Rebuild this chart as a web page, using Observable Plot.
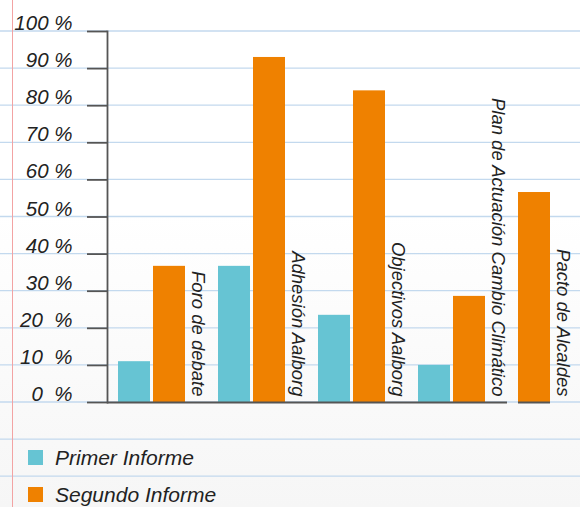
<!DOCTYPE html>
<html>
<head>
<meta charset="utf-8">
<script src="https://cdn.jsdelivr.net/npm/d3@7"></script>
<script src="https://cdn.jsdelivr.net/npm/@observablehq/plot@0.6"></script>
<style>
  html, body { margin: 0; padding: 0; }
  body {
    width: 580px; height: 507px; overflow: hidden; position: relative;
    background: linear-gradient(to bottom, #ffffff 0%, #ffffff 42%, #f6f6f6 100%);
    font-family: "Liberation Sans", Arial, sans-serif;
  }
  #bg { position: absolute; left: 0; top: 0; }
  #chart { position: absolute; left: 0; top: 0; }
  #chart svg { background: transparent !important; overflow: visible; }
  #chart g[aria-label="y-axis tick label"] text { white-space: pre; }
  #legend { position: absolute; left: 0; top: 420px; width: 580px; padding-top: 19px; }
  .row { height: 37px; display: flex; align-items: center; }
  .sw { width: 15px; height: 15px; margin-left: 28px; margin-right: 12px; }
  .lb { font-size: 21px; font-style: italic; color: #222; }
</style>
</head>
<body>
<div id="bg"></div>
<div id="chart"></div>
<div id="legend"></div>
<script>
// ---- data ----
const categories = ["Foro de debate", "Adhesión Aalborg", "Objectivos Aalborg", "Plan de Actuación Cambio Climático", "Pacto de Alcaldes"];
const series = ["Primer Informe", "Segundo Informe"];
const primerInforme = [11, 36.7, 23.5, 10, null];
const segundoInforme = [36.7, 93, 84, 28.6, 56.6];
const colors = ["#66c4d3", "#ef8100"];
const yTicks = [0, 10, 20, 30, 40, 50, 60, 70, 80, 90, 100];
const yTickLabels = ["0  %", "10  %", "20  %", "30 %", "40 %", "50 %", "60 %", "70 %", "80 %", "90 %", "100 %"];
const paperLines = [-30, -20, -10, 0, 10, 20, 30, 40, 50, 60, 70, 80, 90, 100];

// ---- build rows (bars packed left within each category) ----
const seriesValues = [primerInforme, segundoInforme];
const rows = [];
categories.forEach((cat, i) => {
  let slot = 0;
  series.forEach((s, j) => {
    const v = seriesValues[j][i];
    if (v != null) rows.push({cat, series: s, value: v, slot: slot++});
  });
});
const lastRows = categories.map(cat => {
  const r = rows.filter(d => d.cat === cat);
  return r[r.length - 1];
});
const lastCat = categories[categories.length - 1];
const lastSlotOf = cat => lastRows.find(d => d.cat === cat).slot;

const ink = "#222";
const axisInk = "#555";
const font = "Liberation Sans, Arial, sans-serif";

const chart = Plot.plot({
  width: 580,
  height: 420,
  marginTop: 31,
  marginBottom: 18,
  marginLeft: 107,
  marginRight: 0,
  style: {fontFamily: font, background: "transparent", overflow: "visible"},
  fx: {domain: categories, range: [107, 607], padding: 0, axis: null},
  x: {domain: [0, 1], paddingInner: 1 / 12, paddingOuter: 0.43056, align: 10 / 31, axis: null},
  y: {domain: [0, 100], axis: null},
  color: {domain: series, range: colors},
  marks: [
    Plot.barY(rows, {fx: "cat", x: "slot", y: "value", fill: "series"}),
    Plot.ruleY(categories.slice(0, -1), {fx: d => d, y: () => 0, stroke: axisInk, strokeWidth: 2}),
    Plot.ruleY([lastCat], {fx: d => d, y: () => 0, x2: d => lastSlotOf(d), stroke: axisInk, strokeWidth: 2}),
    Plot.frame({anchor: "left", facetAnchor: "left", stroke: axisInk, strokeWidth: 1.8}),
    // tick lines
    Plot.axisY({
      ticks: yTicks,
      tickSize: 20,
      fill: "none",
      stroke: axisInk,
      strokeWidth: 1.8,
      strokeOpacity: 1,
      label: null
    }),
    // tick labels, sitting above their lines
    Plot.axisY({
      ticks: yTicks,
      tickSize: 0,
      tickPadding: 35,
      tickFormat: d => yTickLabels[yTicks.indexOf(d)],
      dy: -8,
      fill: ink,
      fontSize: 20.5,
      fontStyle: "italic",
      fontFamily: font,
      label: null
    }),
    Plot.text(lastRows, {
      fx: "cat", x: "slot", y: () => 0, text: "cat",
      rotate: 90, textAnchor: "end", lineAnchor: "middle",
      dx: 28.5, dy: -6,
      fontSize: 18.5, fontStyle: "italic", fontFamily: font, fill: ink
    })
  ]
});
document.getElementById("chart").appendChild(chart);

// ---- notebook paper background, placed with the chart's own y scale ----
const yScale = chart.scale("y");
const bg = d3.select("#bg").append("svg").attr("width", 580).attr("height", 507);
bg.selectAll("line.h").data(paperLines).join("line")
  .attr("class", "h")
  .attr("x1", 0).attr("x2", 580)
  .attr("y1", d => yScale.apply(d)).attr("y2", d => yScale.apply(d))
  .attr("stroke", "#c3d9ee").attr("stroke-width", 1.3);
bg.append("line").attr("x1", 12.5).attr("x2", 12.5).attr("y1", 0).attr("y2", 507)
  .attr("stroke", "#f3a3a3").attr("stroke-width", 1);

// ---- legend ----
const colorScale = chart.scale("color");
const legend = d3.select("#legend");
series.forEach(s => {
  const row = legend.append("div").attr("class", "row");
  row.append("div").attr("class", "sw").style("background", colorScale.apply(s));
  row.append("div").attr("class", "lb").text(s);
});
</script>
</body>
</html>
